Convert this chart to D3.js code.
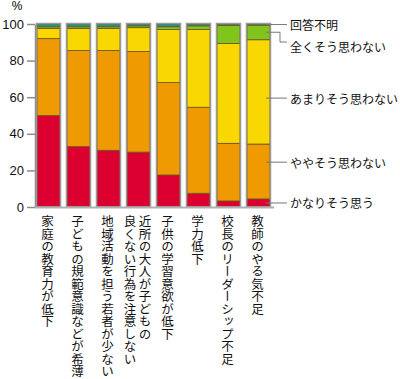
<!DOCTYPE html>
<html>
<head>
<meta charset="utf-8">
<script src="https://cdn.jsdelivr.net/npm/d3@7"></script>
<style>
  body { margin: 0; background: #fff; }
  svg { display: block; }
</style>
</head>
<body>
<div id="chart"></div>
<script>
// categories (multi-line labels split by \n)
const categories = [
  "家庭の教育力が低下",
  "子どもの規範意識などが希薄",
  "地域活動を担う若者が少ない",
  "近所の大人が子どもの\n良くない行為を注意しない",
  "子供の学習意欲が低下",
  "学力低下",
  "校長のリーダーシップ不足",
  "教師のやる気不足"
];

// answers, stacked bottom to top
const answers = ["かなりそう思う", "ややそう思わない", "あまりそう思わない", "全くそう思わない", "回答不明"];

const kanari  = [50, 33,   31,   30, 17.5,  7.5,  3.3,  4.4];
const yaya    = [42, 52.5, 54.5, 55, 50.5, 47,   31.5, 30];
const amari   = [5.5, 12,  12,   13, 29,   42.5, 54.5, 57];
const mattaku = [1,  1,    1,    1,  1.5,  2,    10,   8];
const fumei   = [1.5, 1.5, 1.5,  1,  1.5,  1,    0.7,  0.6];

const yTicks = [0, 20, 40, 60, 80, 100];
// where each legend leader points (value on the last bar)
const legendAt = [2.2, 24.5, 59.5, 95.5, 99.7];

const colors = ["#dc0030", "#ee9a00", "#f8d800", "#80c41c", "#1a9a8c"];

const width = 400, height = 379;

const svg = d3.select("#chart").append("svg")
  .attr("width", width)
  .attr("height", height);

const x = d3.scaleBand()
  .domain(categories)
  .range([33.5, 273.5])
  .paddingInner(0.233)
  .paddingOuter(0.117);

const y = d3.scaleLinear().domain([0, 100]).range([207, 24]);

const series = [kanari, yaya, amari, mattaku, fumei];
const table = categories.map((c, i) => {
  const row = { cat: c };
  answers.forEach((a, j) => row[a] = series[j][i]);
  return row;
});
const stacked = d3.stack().keys(answers)(table);

// y axis
const yAxis = svg.append("g")
  .attr("transform", "translate(35,0)")
  .call(d3.axisLeft(y).tickValues(yTicks).tickSize(8).tickSizeOuter(0).tickPadding(3));
yAxis.select(".domain").attr("stroke", "#8c8c8c").attr("stroke-width", 1.5);
yAxis.selectAll(".tick line").attr("stroke", "#8c8c8c").attr("stroke-width", 1.5);
yAxis.selectAll(".tick text")
  .attr("font-family", "Liberation Sans, Arial, sans-serif")
  .attr("font-size", 13)
  .attr("fill", "#111");

svg.append("text")
  .attr("x", 17).attr("y", 10)
  .attr("text-anchor", "middle")
  .attr("font-family", "Liberation Sans, Arial, sans-serif")
  .attr("font-size", 12)
  .text("%");

// bars
svg.append("g").selectAll("g")
  .data(stacked)
  .join("g")
  .attr("fill", (d, i) => colors[i])
  .selectAll("rect")
  .data(d => d)
  .join("rect")
  .attr("x", d => x(d.data.cat))
  .attr("width", x.bandwidth())
  .attr("y", d => y(d[1]))
  .attr("height", d => y(d[0]) - y(d[1]))
  .attr("stroke", "#6a5020")
  .attr("stroke-width", 0.8);

// gray frame around each bar
svg.append("g").selectAll("rect")
  .data(categories)
  .join("rect")
  .attr("x", d => x(d) - 0.5)
  .attr("width", x.bandwidth() + 1)
  .attr("y", y(100) - 0.5)
  .attr("height", y(0) - y(100) + 0.5)
  .attr("fill", "none")
  .attr("stroke", "#9a9a9a")
  .attr("stroke-width", 1.5);

// baseline
svg.append("line")
  .attr("x1", 35).attr("x2", 274)
  .attr("y1", y(0) + 0.5).attr("y2", y(0) + 0.5)
  .attr("stroke", "#b0b0b0")
  .attr("stroke-width", 2);

// category labels (vertical)
const labels = svg.append("g")
  .attr("font-family", "Noto Sans CJK JP, sans-serif")
  .attr("font-size", 12.5)
  .attr("fill", "#111");
categories.forEach(c => {
  const lines = c.split("\n");
  const cx = x(c) + x.bandwidth() / 2 - 1;
  const first = cx + (lines.length - 1) * 7.5;
  lines.forEach((line, k) => {
    labels.append("text")
      .attr("x", first - k * 15)
      .attr("y", 215)
      .style("writing-mode", "vertical-rl")
      .style("glyph-orientation-vertical", "0")
      .text(line);
  });
});

// legend with leaders on the last bar
const lastX = x(categories[categories.length - 1]) + x.bandwidth();
const legend = svg.append("g")
  .attr("font-family", "Noto Sans CJK JP, sans-serif")
  .attr("font-size", 12)
  .attr("fill", "#111");
answers.forEach((a, i) => {
  const ly = y(legendAt[i]);
  if (a === "全くそう思わない") {
    const ty = 46;
    legend.append("path")
      .attr("d", `M${lastX - 4},${ly}H${lastX + 10}V${ty - 4}H${lastX + 17}`)
      .attr("fill", "none").attr("stroke", "#777").attr("stroke-width", 1);
    legend.append("text")
      .attr("x", 290).attr("y", ty)
      .attr("dominant-baseline", "central")
      .text(a);
  } else {
    legend.append("line")
      .attr("x1", lastX - 4).attr("x2", lastX + 17)
      .attr("y1", ly).attr("y2", ly)
      .attr("stroke", "#777").attr("stroke-width", 1);
    legend.append("text")
      .attr("x", 290).attr("y", ly)
      .attr("dominant-baseline", "central")
      .text(a);
  }
});
</script>
</body>
</html>
